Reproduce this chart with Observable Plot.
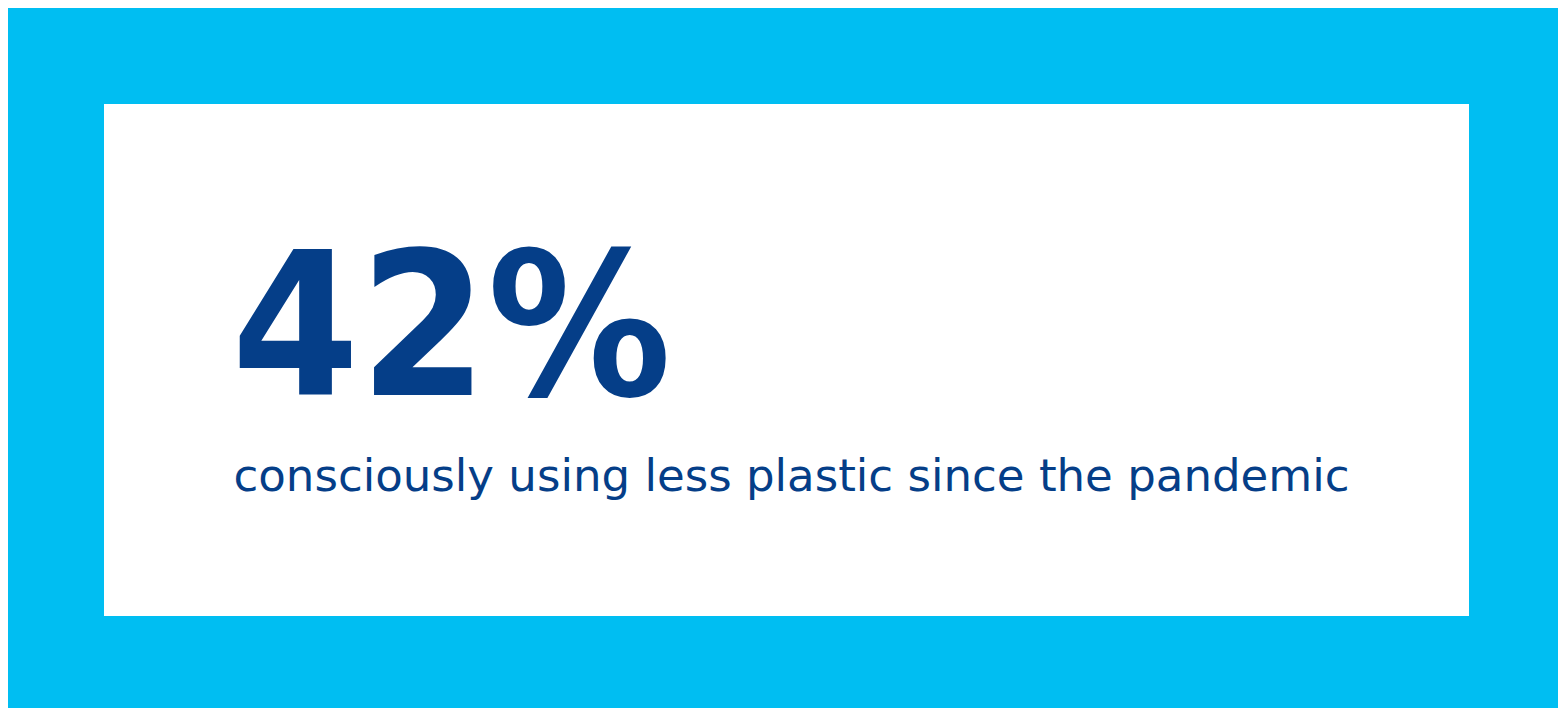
<!DOCTYPE html>
<html>
<head>
<meta charset="utf-8">
<script src="https://cdn.jsdelivr.net/npm/d3@7"></script>
<script src="https://cdn.jsdelivr.net/npm/@observablehq/plot@0.6"></script>
<style>
  html, body { margin: 0; padding: 0; background: #ffffff; overflow: hidden; width: 1558px; height: 708px; }
  #frame { position: absolute; left: 8px; top: 8px; width: 1550px; height: 700px; background: #00bef2; }
  #panel { position: absolute; left: 96px; top: 96px; width: 1365px; height: 512px; background: #ffffff; }
  #panel svg { display: block; }
</style>
</head>
<body>
<div id="frame"><div id="panel"></div></div>
<script>
const statValue = ["42%"];
const statLabel = ["consciously using less plastic since the pandemic"];

const navy = "#053e88";

const chart = Plot.plot({
  width: 1365,
  height: 512,
  margin: 0,
  style: { background: "transparent" },
  marks: [
    Plot.text(statValue, {
      text: d => d,
      frameAnchor: "top-left",
      textAnchor: "start",
      lineAnchor: "bottom",
      dx: 127,
      dy: 290,
      fill: navy,
      fontFamily: "DejaVu Sans",
      fontWeight: "bold",
      fontSize: 199,
      className: "stat-value"
    }),
    Plot.text(statLabel, {
      text: d => d,
      frameAnchor: "top-left",
      textAnchor: "start",
      lineAnchor: "bottom",
      dx: 129,
      dy: 386,
      fill: navy,
      fontFamily: "DejaVu Sans",
      fontWeight: "normal",
      fontSize: 44,
      className: "stat-label"
    })
  ]
});

document.getElementById("panel").appendChild(chart);

// fit texts to the measured widths of the reference
d3.select(chart).selectAll("g.stat-value text").attr("textLength", 440).attr("lengthAdjust", "spacingAndGlyphs");
d3.select(chart).selectAll("g.stat-label text").attr("textLength", 1116).attr("lengthAdjust", "spacingAndGlyphs");
</script>
</body>
</html>
